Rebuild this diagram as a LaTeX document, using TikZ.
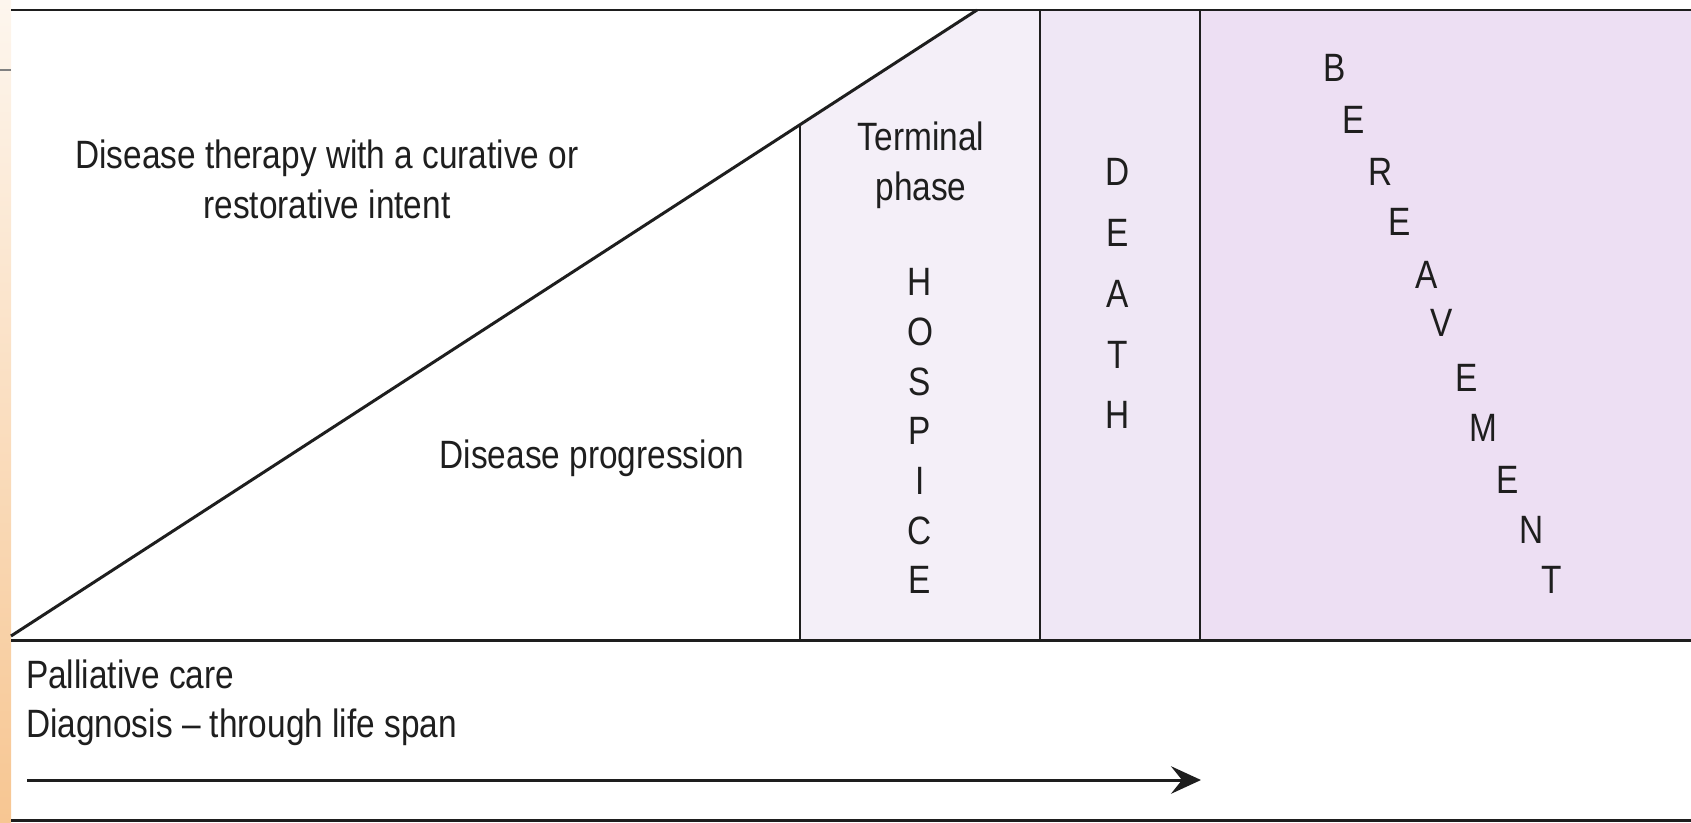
\documentclass[tikz,border=0pt]{standalone}
\usepackage{fontspec}
\setmainfont{Liberation Sans}[FakeStretch=0.845]
\usetikzlibrary{arrows.meta}

\definecolor{termfill}{RGB}{244,239,248}
\definecolor{deathfill}{RGB}{239,231,245}
\definecolor{grieffill}{RGB}{237,223,243}
\definecolor{stripetop}{RGB}{253,246,238}
\definecolor{stripebot}{RGB}{247,198,146}
\definecolor{ink}{RGB}{30,30,30}

\begin{document}
\begin{tikzpicture}[x=0.02cm, y=-0.02cm, line width=1.3pt, draw=ink]
    \tikzset{txt/.style = {font=\fontsize{22.5}{28}\selectfont, text=ink, inner sep=0pt}}
    \tikzset{letter/.style = {txt, anchor=center}}
    \tikzset{rule/.style = {line width=1.7pt}}
    \tikzset{divider/.style = {line width=1.1pt}}
    \tikzset{timeline/.style = {line width=1.7pt, -{Stealth[length=0.6cm, width=0.55cm, inset=0.22cm]}}}

    \useasboundingbox (0,0) rectangle (1691,822);

    % panels
    \shade[top color=stripetop, bottom color=stripebot] (0,0) rectangle (11,822);
    \draw[gray, line width=0.6pt] (0,70) -- (11,70);
    \fill[termfill] (800,124) -- (977,10) -- (1040,10) -- (1040,640) -- (800,640) -- cycle;
    \fill[deathfill] (1040,10) rectangle (1200,640);
    \fill[grieffill] (1200,10) rectangle (1691,640);

    % lines
    \draw[rule] (11,10) -- (1691,10);
    \draw[rule] (11,640) -- (1691,640);
    \draw[rule] (11,820) -- (1691,820);
    \draw[rule] (11,636) -- (977,10);
    \draw[divider] (800,124) -- (800,640);
    \draw[divider] (1040,10) -- (1040,640);
    \draw[divider] (1200,10) -- (1200,640);

    % texts
    \node[txt, align=center, anchor=base] (therapy) at (327,218)
      {Disease therapy with a curative or\\restorative intent};
    \node[txt, anchor=base] (progression) at (592,468) {Disease progression};
    \node[txt, align=center, anchor=base] (terminal) at (921,200) {Terminal\\phase};
    \node[txt, anchor=base west] (palliative) at (25,688) {Palliative care};
    \node[txt, anchor=base west] (diagnosis) at (25,737) {Diagnosis -- through life span};

    \foreach \c [count=\i] in {H,O,S,P,I,C,E}
      \node[letter] (hospice\i) at (920,{282+49.7*(\i-1)}) {\c};
    \foreach \c [count=\i] in {D,E,A,T,H}
      \node[letter] (death\i) at (1118,{172+60.8*(\i-1)}) {\c};
    \foreach \c/\px/\py [count=\i] in {B/1335/68, E/1354/120, R/1381/172, E/1400/222,
        A/1427/275, V/1442/323, E/1467/378, M/1483/428, E/1508/480, N/1532/530, T/1552/580}
      \node[letter] (bereave\i) at (\px,\py) {\c};

    % arrow
    \coordinate (start) at (27,780);
    \coordinate (end) at (1201,780);
    \draw[timeline] (start) -- (end);
\end{tikzpicture}
\end{document}
